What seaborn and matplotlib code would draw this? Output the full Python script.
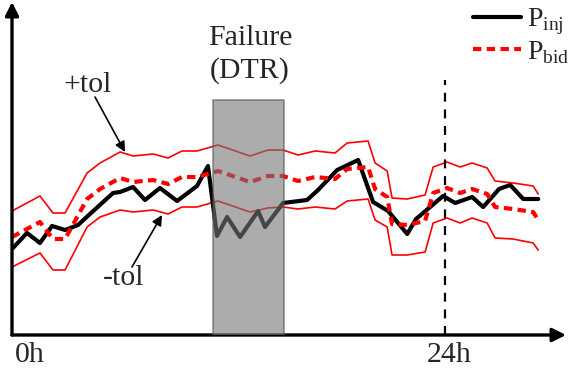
import matplotlib
matplotlib.use('Agg')
import matplotlib.pyplot as plt
import seaborn as sns

sns.set_style('white')
plt.rcParams['font.family'] = ['Liberation Serif', 'DejaVu Serif']
plt.rcParams['mathtext.fontset'] = 'custom'
plt.rcParams['mathtext.rm'] = 'Liberation Serif'

# hours, shared by the tolerance band and the bid
band_t = [0.00, 1.55, 2.27, 2.94, 4.16, 4.88, 5.99, 6.71, 7.82, 8.65, 9.42, 10.25,
          11.42, 13.19, 14.19, 15.02, 15.85, 16.80, 17.90, 18.57, 19.73, 20.12,
          20.79, 21.06, 21.90, 22.89, 23.34, 24.11, 24.83, 25.50, 26.33, 26.77,
          27.77, 28.88, 29.16]
tol_upper = [1.21, 1.36, 1.19, 1.19, 1.59, 1.69, 1.80, 1.76, 1.78, 1.74, 1.81, 1.81,
             1.87, 1.76, 1.82, 1.82, 1.77, 1.81, 1.79, 1.89, 1.91, 1.69, 1.61, 1.34,
             1.33, 1.37, 1.65, 1.70, 1.65, 1.69, 1.64, 1.51, 1.49, 1.46, 1.38]
tol_lower = [0.65, 0.79, 0.62, 0.62, 1.05, 1.15, 1.22, 1.20, 1.22, 1.18, 1.25, 1.25,
             1.31, 1.20, 1.24, 1.25, 1.23, 1.25, 1.23, 1.31, 1.33, 1.12, 1.05, 0.77,
             0.77, 0.80, 1.09, 1.14, 1.09, 1.14, 1.09, 0.94, 0.93, 0.89, 0.82]
p_bid = [0.95, 1.10, 0.93, 0.93, 1.33, 1.43, 1.54, 1.50, 1.52, 1.48, 1.55, 1.55,
         1.61, 1.50, 1.56, 1.56, 1.51, 1.55, 1.53, 1.63, 1.65, 1.43, 1.35, 1.08,
         1.07, 1.11, 1.39, 1.44, 1.39, 1.43, 1.38, 1.25, 1.23, 1.20, 1.12]

inj_t = [0.00, 0.83, 1.55, 2.22, 2.94, 3.66, 4.38, 5.60, 5.99, 6.71, 7.37, 8.20,
         9.15, 10.25, 10.86, 11.36, 11.92, 12.64, 13.64, 14.02, 15.02, 16.35,
         16.96, 18.02, 19.18, 20.01, 20.84, 21.90, 22.39, 23.17, 23.89, 24.56,
         25.50, 26.11, 26.99, 27.61, 28.33, 29.16]
p_inj = [0.83, 0.99, 0.89, 1.06, 1.02, 1.07, 1.19, 1.39, 1.40, 1.45, 1.32, 1.44,
         1.31, 1.46, 1.66, 0.96, 1.15, 0.95, 1.21, 1.05, 1.29, 1.32, 1.42, 1.62,
         1.72, 1.30, 1.21, 0.98, 1.13, 1.25, 1.36, 1.29, 1.35, 1.25, 1.43, 1.47,
         1.33, 1.33]

fail_start, fail_end, fail_top = 11.14, 15.08, 2.32
day_mark, day_top = 24.0, 2.52

fig = plt.figure(figsize=(5.74, 3.72), dpi=100)
ax = fig.add_axes([12 / 574, 37 / 372, 554 / 574, 333 / 372])
ax.set_xlim(0, 30.7)
ax.set_ylim(-0.03, 3.30)

sns.lineplot(x=band_t, y=tol_upper, ax=ax, color='red', lw=1.2, sort=False, estimator=None)
sns.lineplot(x=band_t, y=tol_lower, ax=ax, color='red', lw=1.2, sort=False, estimator=None)
sns.lineplot(x=inj_t, y=p_inj, ax=ax, color='black', lw=3.0, sort=False, estimator=None,
             label=r'P$_{\mathrm{inj}}$')
sns.lineplot(x=band_t, y=p_bid, ax=ax, color='red', lw=3.0, sort=False, estimator=None,
             linestyle=(0, (2.0, 1.3)), label=r'P$_{\mathrm{bid}}$')

# failure window drawn over the lines
ax.axvspan(fail_start, fail_end, ymin=0, ymax=(fail_top + 0.03) / 3.33,
           facecolor='#767676', edgecolor='#505050', lw=1.2, alpha=0.6, zorder=5)
ax.vlines(day_mark, -0.03, day_top, colors='black', lw=1.6,
          linestyles=(0, (4, 3.5)), zorder=6)

for s in ax.spines.values():
    s.set_visible(False)
ax.set_xticks([])
ax.set_yticks([])
ax.set_xlabel('')
ax.set_ylabel('')

arrow = dict(arrowstyle='-|>', color='black', lw=2.4, mutation_scale=20,
             shrinkA=0, shrinkB=0)
ax.annotate('', xy=(0, 1), xytext=(0, 0), xycoords='axes fraction', arrowprops=arrow)
ax.annotate('', xy=(1, 0), xytext=(0, 0), xycoords='axes fraction', arrowprops=arrow)

fs = 21.5
ax.text(0.17, -0.30, '0h', ha='left', va='baseline', fontsize=fs, clip_on=False)
ax.text(24.2, -0.30, '24h', ha='center', va='baseline', fontsize=fs, clip_on=False)

ax.text(13.19, 2.87, 'Failure', ha='center', va='baseline', fontsize=fs)
ax.text(13.19, 2.54, '(DTR)', ha='center', va='baseline', fontsize=fs)
ax.text(4.2, 2.47, '+tol', ha='center', va='center', fontsize=fs)
ax.text(6.2, 0.54, '-tol', ha='center', va='center', fontsize=fs)

small = dict(arrowstyle='-|>', color='black', lw=1.2, mutation_scale=15,
             shrinkA=0, shrinkB=0)
ax.annotate('', xy=(6.26, 1.80), xytext=(4.6, 2.35), arrowprops=small)
ax.annotate('', xy=(8.31, 1.17), xytext=(6.65, 0.65), arrowprops=small)

ax.legend(loc='upper right', bbox_to_anchor=(1.006, 1.004), bbox_transform=fig.transFigure,
          frameon=False, fontsize=20, handlelength=1.73, handletextpad=0.2,
          labelspacing=0.05, borderpad=0.3, borderaxespad=0.0)

plt.savefig('out.png', dpi=100)
